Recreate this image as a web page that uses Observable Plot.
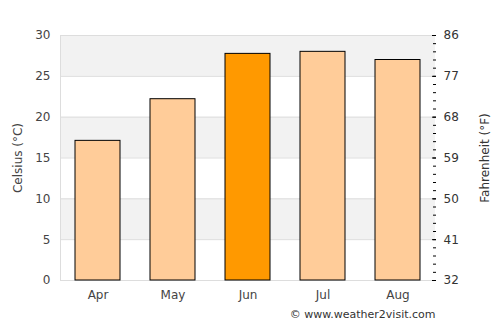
<!DOCTYPE html>
<html><head><meta charset="utf-8">
<script src="https://cdn.jsdelivr.net/npm/d3@7"></script>
<script src="https://cdn.jsdelivr.net/npm/@observablehq/plot@0.6"></script>
<style>body{margin:0;background:#fff;} svg{font-family:"DejaVu Sans",sans-serif;}</style>
</head><body><div id="chart"></div>
<script>
const months = ["Apr", "May", "Jun", "Jul", "Aug"];
const celsius = [17.1, 22.2, 27.75, 28.0, 27.0];
const highlight = ["Jun"];
const majorTicks = [0, 5, 10, 15, 20, 25, 30];
const minorTicks = d3.range(0, 31, 1);
const bandStarts = [5, 15, 25];
const credit = ["© www.weather2visit.com"];

const data = months.map((m, i) => ({month: m, c: celsius[i]}));
const bands = bandStarts.map(s => ({y1: s, y2: s + 5}));

const chart = Plot.plot({
  width: 500, height: 325,
  marginTop: 35, marginBottom: 45, marginLeft: 60, marginRight: 65,
  style: {fontFamily: "DejaVu Sans, sans-serif", fontSize: "12px", color: "#444", background: "#fff"},
  x: {domain: months, paddingInner: 0.4, paddingOuter: 0.2, label: null},
  y: {domain: [0, 30], label: null},
  marks: [
    Plot.rectY(bands, {y1: "y1", y2: "y2", fill: "#f2f2f2"}),
    Plot.ruleY(majorTicks, {stroke: "#dddddd", strokeWidth: 1}),
    Plot.frame({anchor: "left", stroke: "#dddddd"}),
    Plot.barY(data, {x: "month", y: "c", fill: d => highlight.includes(d.month) ? "#ff9900" : "#ffcc99", stroke: "#000", strokeWidth: 1}),
    Plot.axisY({anchor: "left", ticks: majorTicks, tickSize: 0, tickPadding: 10, fontSize: 12, fill: "#444", label: "Celsius (°C)", labelAnchor: "center", labelArrow: "none", labelOffset: 47}),
    Plot.axisY({anchor: "right", ticks: majorTicks, tickSize: 0, tickPadding: 8, tickFormat: c => String(Math.round(c * 9 / 5 + 32)), fontSize: 12, fill: "#333", label: "Fahrenheit (°F)", labelAnchor: "center", labelArrow: "none", labelOffset: 53}),
    Plot.axisY({anchor: "right", ticks: minorTicks, tickSize: 3, text: null, label: null, dx: -3, stroke: "#000"}),
    Plot.axisY({anchor: "right", ticks: majorTicks, tickSize: 4, text: null, label: null, dx: -4, stroke: "#000"}),
    Plot.axisX({tickSize: 0, tickPadding: 10, fontSize: 12, fill: "#444", label: null}),
    Plot.text(credit, {frameAnchor: "bottom-right", dy: 37, textAnchor: "end", fontSize: 11, fill: "#333"})
  ]
});
document.getElementById("chart").appendChild(chart);
</script></body></html>
